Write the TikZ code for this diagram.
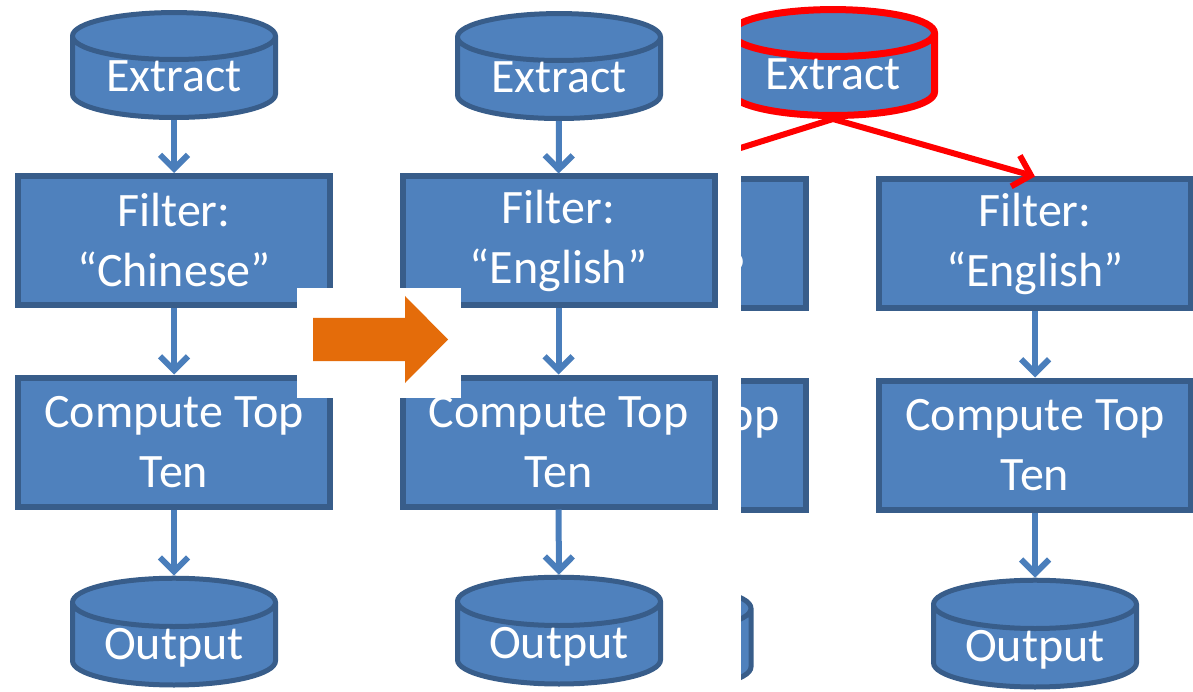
\documentclass[tikz,border=0pt]{standalone}
\usepackage{fontspec}
\setmainfont{Carlito}
\usetikzlibrary{shapes.geometric, arrows.meta}

\definecolor{boxblue}{HTML}{4F81BD}
\definecolor{boxline}{HTML}{385D8A}
\definecolor{flowblue}{HTML}{4A7EBB}
\definecolor{pushorange}{HTML}{E46C0A}

\begin{document}
\begin{tikzpicture}[x=1pt, y=-1pt,
    stage/.style={rectangle, draw=boxline, line width=6pt, fill=boxblue,
      text=white, align=center, minimum width=312pt, minimum height=129pt,
      font=\fontsize{48}{60}\selectfont},
    store/.style={cylinder, shape border rotate=90, aspect=0.33,
      draw=boxline, line width=5pt, fill=boxblue, text=white,
      minimum width=203pt, minimum height=70pt, inner ysep=0pt,
      text height=30pt, text depth=8pt,
      font=\fontsize{48}{60}\selectfont},
    flow/.style={draw=flowblue, line width=6pt,
      -{Straight Barb[length=14pt, width=28pt]}},
    redflow/.style={draw=red, line width=6pt,
      -{Straight Barb[length=16pt, width=32pt]}}]
  \useasboundingbox (0,0) rectangle (1193,692);
  % first plan
  \node[store] (ext1) at (174,81) {Extract};
  \node[stage] (filt1) at (174,240.5) {Filter:\\``Chinese''};
  \node[stage] (comp1) at (174,442) {Compute Top\\Ten};
  \node[store] (out1) at (174,648) {Output};
  \draw[flow] (ext1) -- (filt1);
  \draw[flow] (filt1) -- (comp1);
  \draw[flow] (comp1) -- (out1);
  % second plan
  \node[store] (ext2) at (559,82) {Extract};
  \node[stage] (filt2) at (558.5,241) {Filter:\\``English''};
  \node[stage] (comp2) at (558.5,442) {Compute Top\\Ten};
  \node[store] (out2) at (559,647) {Output};
  \draw[flow] (ext2) -- (filt2);
  \draw[flow] (filt2) -- (comp2);
  \draw[flow] (comp2) -- (out2);
  % rewrite arrow
  \fill[white] (297,288) rectangle (461,398);
  \fill[pushorange] (313,318) -- (405,318) -- (405,296) -- (448,339.5)
    -- (405,383) -- (405,361) -- (313,361) -- cycle;
  % shared plan
  \begin{scope}
    \clip (741,0) rectangle (1193,692);
    \node[store, draw=red, line width=7pt] (ext3) at (833,79) {Extract};
    \node[stage] (filtA) at (649.5,244) {Filter:\\``Chinese''};
    \node[stage] (compA) at (649.5,445) {Compute Top\\Ten};
    \node[store] (outA) at (649.5,654) {Output};
    \node[stage] (filtB) at (1035,244) {Filter:\\``English''};
    \node[stage] (compB) at (1035,445) {Compute Top\\Ten};
    \node[store] (outB) at (1035,650) {Output};
    \draw[redflow] (ext3.south) -- (filtA.north);
    \draw[redflow] (ext3.south) -- (filtB.north);
    \draw[flow] (filtB) -- (compB);
    \draw[flow] (compB) -- (outB);
  \end{scope}
\end{tikzpicture}
\end{document}
